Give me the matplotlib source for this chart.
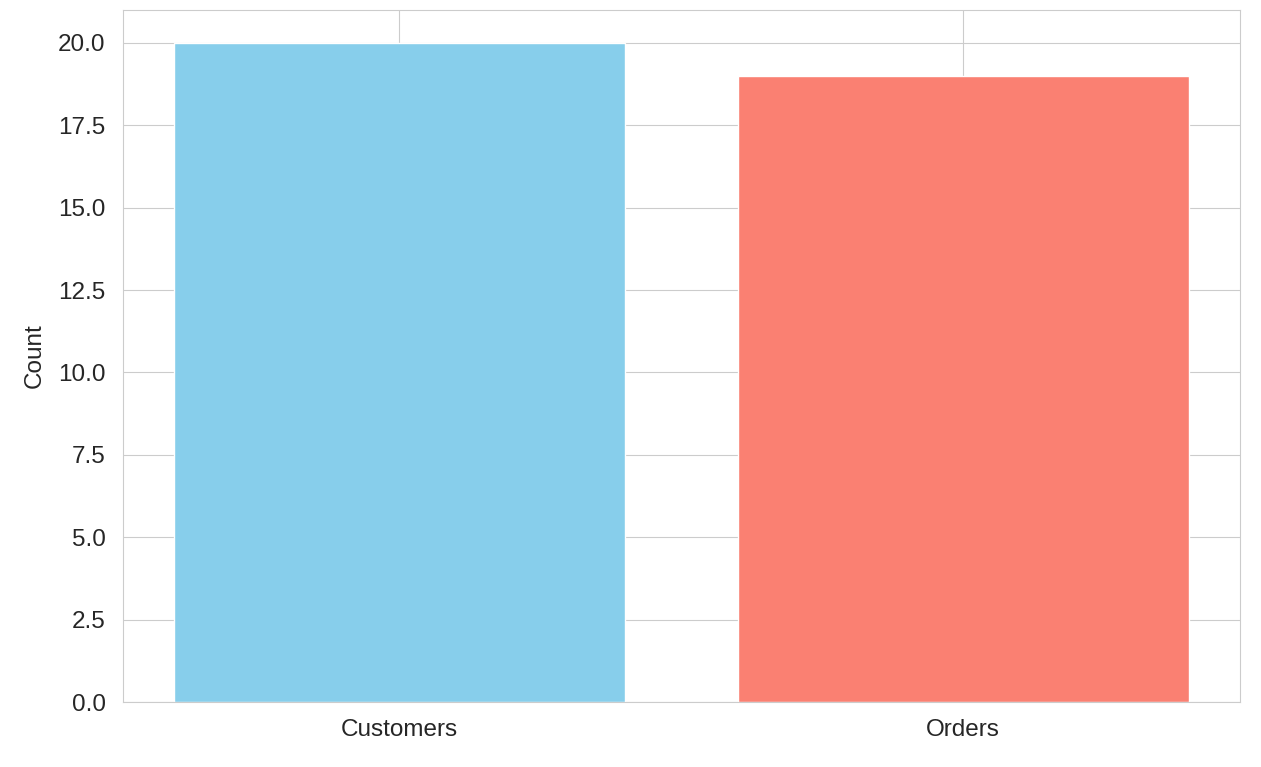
import matplotlib
matplotlib.use("Agg")
import matplotlib.pyplot as plt
import seaborn as sns

categories = ["Customers", "Orders"]
counts = [20, 19]
colors = ["skyblue", "salmon"]

sns.set_style("whitegrid")
plt.rcParams['font.family'] = ['Liberation Sans', 'DejaVu Sans']

fig = plt.figure(figsize=(12.61, 7.67), dpi=100)
ax = fig.add_axes([0.0975, 0.0847, 0.8855, 0.9023])
ax.bar(categories, counts, color=colors)
ax.set_ylabel("Count", fontsize=17.5, labelpad=9, color="#262626")
ax.tick_params(axis="both", labelsize=17.5, colors="#262626", pad=9)
for s in ax.spines.values():
    s.set_color("#cccccc")

fig.savefig("out.png", dpi=100)
